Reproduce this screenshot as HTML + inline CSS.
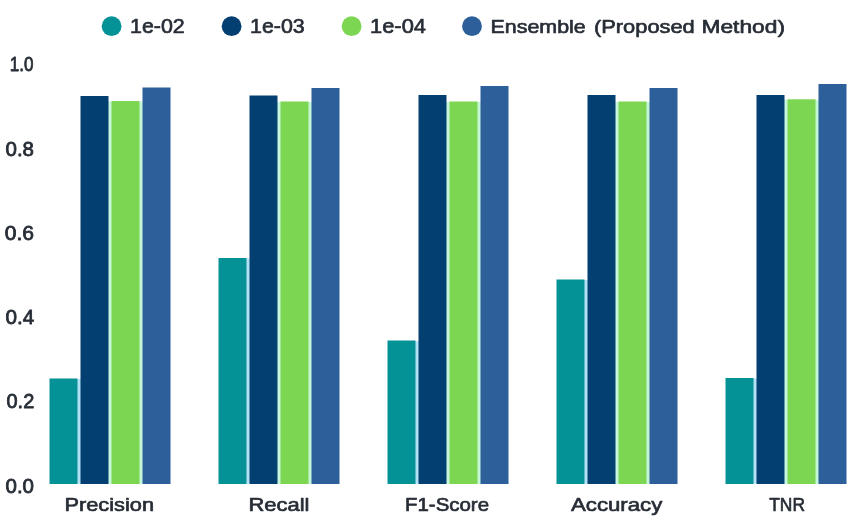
<!DOCTYPE html>
<html lang="en"><head><meta charset="utf-8"><title>Chart</title>
<style>html,body{margin:0;padding:0;background:#fff}body{width:850px;height:522px;overflow:hidden}svg{display:block;filter:blur(0.7px)}text{font-family:"Liberation Sans",sans-serif;fill:#272d36;stroke:#272d36;stroke-linejoin:round}.m{stroke-width:0.65}.y{stroke-width:0.8}</style></head><body>
<svg width="850" height="522" viewBox="0 0 850 522">
<rect width="850" height="522" fill="#ffffff"/>
<circle cx="111.6" cy="26.2" r="9.9" fill="#059297"/>
<circle cx="231.6" cy="26.2" r="9.9" fill="#043f72"/>
<circle cx="351.6" cy="26.2" r="9.9" fill="#7cd651"/>
<circle cx="472.0" cy="26.2" r="9.9" fill="#2d5f9b"/>
<rect x="77.0" y="379.0" width="4.0" height="104.7" fill="#b2e2f4"/>
<rect x="108.0" y="101.5" width="4.0" height="382.2" fill="#c6f6de"/>
<rect x="139.0" y="101.5" width="4.0" height="382.2" fill="#c4f6d8"/>
<rect x="49.5" y="378.5" width="28.0" height="105.5" fill="#059297"/>
<rect x="80.5" y="96.0" width="28.0" height="388.0" fill="#043f72"/>
<rect x="111.5" y="101.0" width="28.0" height="383.0" fill="#7cd651"/>
<rect x="142.5" y="87.5" width="28.0" height="396.5" fill="#2d5f9b"/>
<rect x="246.0" y="258.5" width="4.0" height="225.2" fill="#b2e2f4"/>
<rect x="277.0" y="102.0" width="4.0" height="381.7" fill="#c6f6de"/>
<rect x="308.0" y="102.0" width="4.0" height="381.7" fill="#c4f6d8"/>
<rect x="218.5" y="258.0" width="28.0" height="226.0" fill="#059297"/>
<rect x="249.5" y="95.5" width="28.0" height="388.5" fill="#043f72"/>
<rect x="280.5" y="101.5" width="28.0" height="382.5" fill="#7cd651"/>
<rect x="311.5" y="88.0" width="28.0" height="396.0" fill="#2d5f9b"/>
<rect x="415.0" y="341.0" width="4.0" height="142.7" fill="#b2e2f4"/>
<rect x="446.0" y="102.0" width="4.0" height="381.7" fill="#c6f6de"/>
<rect x="477.0" y="102.0" width="4.0" height="381.7" fill="#c4f6d8"/>
<rect x="387.5" y="340.5" width="28.0" height="143.5" fill="#059297"/>
<rect x="418.5" y="95.0" width="28.0" height="389.0" fill="#043f72"/>
<rect x="449.5" y="101.5" width="28.0" height="382.5" fill="#7cd651"/>
<rect x="480.5" y="86.0" width="28.0" height="398.0" fill="#2d5f9b"/>
<rect x="584.0" y="280.0" width="4.0" height="203.7" fill="#b2e2f4"/>
<rect x="615.0" y="102.0" width="4.0" height="381.7" fill="#c6f6de"/>
<rect x="646.0" y="102.0" width="4.0" height="381.7" fill="#c4f6d8"/>
<rect x="556.5" y="279.5" width="28.0" height="204.5" fill="#059297"/>
<rect x="587.5" y="95.0" width="28.0" height="389.0" fill="#043f72"/>
<rect x="618.5" y="101.5" width="28.0" height="382.5" fill="#7cd651"/>
<rect x="649.5" y="88.0" width="28.0" height="396.0" fill="#2d5f9b"/>
<rect x="753.0" y="378.5" width="4.0" height="105.2" fill="#b2e2f4"/>
<rect x="784.0" y="99.8" width="4.0" height="383.9" fill="#c6f6de"/>
<rect x="815.0" y="99.8" width="4.0" height="383.9" fill="#c4f6d8"/>
<rect x="725.5" y="378.0" width="28.0" height="106.0" fill="#059297"/>
<rect x="756.5" y="95.0" width="28.0" height="389.0" fill="#043f72"/>
<rect x="787.5" y="99.3" width="28.0" height="384.7" fill="#7cd651"/>
<rect x="818.5" y="84.0" width="28.0" height="400.0" fill="#2d5f9b"/>
<text class="m" x="64.50" y="510.80" font-size="18.6" textLength="89.50" lengthAdjust="spacingAndGlyphs">Precision</text>
<text class="m" x="248.50" y="510.80" font-size="18.6" textLength="61.00" lengthAdjust="spacingAndGlyphs">Recall</text>
<text class="m" x="405.00" y="510.80" font-size="18.6" textLength="84.00" lengthAdjust="spacingAndGlyphs">F1-Score</text>
<text class="m" x="571.00" y="510.80" font-size="18.6" textLength="91.25" lengthAdjust="spacingAndGlyphs">Accuracy</text>
<text class="m" x="769.25" y="510.80" font-size="18.6" textLength="35.75" lengthAdjust="spacingAndGlyphs">TNR</text>
<text class="m" x="130.00" y="32.80" font-size="20.2" textLength="54.75" lengthAdjust="spacingAndGlyphs">1e-02</text>
<text class="m" x="250.00" y="32.80" font-size="20.2" textLength="54.75" lengthAdjust="spacingAndGlyphs">1e-03</text>
<text class="m" x="370.00" y="32.80" font-size="20.2" textLength="56.00" lengthAdjust="spacingAndGlyphs">1e-04</text>
<text class="m" x="490.50" y="32.80" font-size="19.0" textLength="95.25" lengthAdjust="spacingAndGlyphs">Ensemble</text>
<text class="m" x="594.00" y="32.80" font-size="19.0" textLength="100.75" lengthAdjust="spacingAndGlyphs">(Proposed</text>
<text class="m" x="701.50" y="32.80" font-size="19.0" textLength="83.50" lengthAdjust="spacingAndGlyphs">Method)</text>
<text class="y" x="5.50" y="492.70" font-size="20.2" textLength="28.50" lengthAdjust="spacingAndGlyphs">0.0</text>
<text class="y" x="6.50" y="408.45" font-size="20.2" textLength="27.75" lengthAdjust="spacingAndGlyphs">0.2</text>
<text class="y" x="5.50" y="324.00" font-size="20.2" textLength="28.75" lengthAdjust="spacingAndGlyphs">0.4</text>
<text class="y" x="4.75" y="239.75" font-size="20.2" textLength="29.25" lengthAdjust="spacingAndGlyphs">0.6</text>
<text class="y" x="5.50" y="155.80" font-size="20.2" textLength="28.50" lengthAdjust="spacingAndGlyphs">0.8</text>
<text class="y" x="9.75" y="71.45" font-size="20.2" textLength="23.75" lengthAdjust="spacingAndGlyphs">1.0</text>
</svg></body></html>
